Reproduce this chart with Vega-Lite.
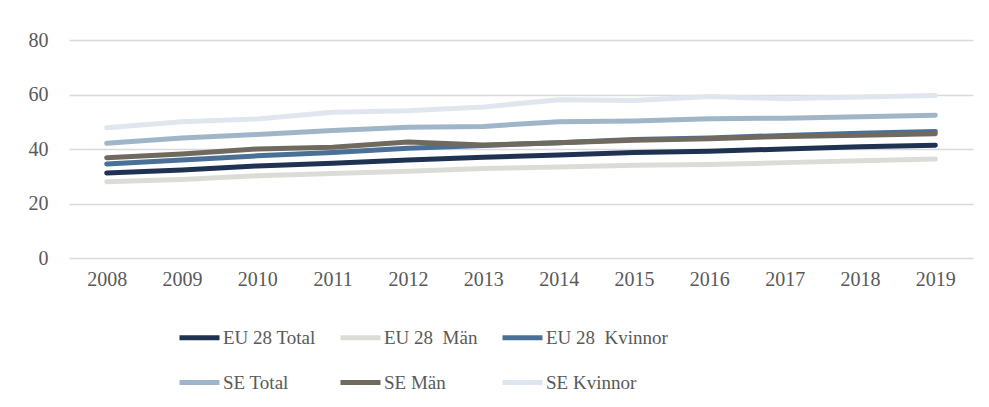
{
  "$schema": "https://vega.github.io/schema/vega-lite/v6.json",
  "autosize": {"type": "none"},
  "width": 904,
  "height": 218,
  "padding": {"left": 69, "top": 40, "right": 16, "bottom": 149},
  "background": "white",
  "config": {
    "view": {"stroke": null},
    "font": "Liberation Serif"
  },
  "data": {
    "values": [
      {"year": "2008", "series": "EU 28 Total", "value": 31.2},
      {"year": "2009", "series": "EU 28 Total", "value": 32.3},
      {"year": "2010", "series": "EU 28 Total", "value": 33.8},
      {"year": "2011", "series": "EU 28 Total", "value": 34.8},
      {"year": "2012", "series": "EU 28 Total", "value": 36.0},
      {"year": "2013", "series": "EU 28 Total", "value": 37.0},
      {"year": "2014", "series": "EU 28 Total", "value": 37.8},
      {"year": "2015", "series": "EU 28 Total", "value": 38.7},
      {"year": "2016", "series": "EU 28 Total", "value": 39.2},
      {"year": "2017", "series": "EU 28 Total", "value": 40.0},
      {"year": "2018", "series": "EU 28 Total", "value": 40.8},
      {"year": "2019", "series": "EU 28 Total", "value": 41.4},
      {"year": "2008", "series": "EU 28  Män", "value": 28.0},
      {"year": "2009", "series": "EU 28  Män", "value": 28.8},
      {"year": "2010", "series": "EU 28  Män", "value": 30.2},
      {"year": "2011", "series": "EU 28  Män", "value": 31.0},
      {"year": "2012", "series": "EU 28  Män", "value": 31.8},
      {"year": "2013", "series": "EU 28  Män", "value": 32.8},
      {"year": "2014", "series": "EU 28  Män", "value": 33.4},
      {"year": "2015", "series": "EU 28  Män", "value": 34.0},
      {"year": "2016", "series": "EU 28  Män", "value": 34.3},
      {"year": "2017", "series": "EU 28  Män", "value": 35.0},
      {"year": "2018", "series": "EU 28  Män", "value": 35.7},
      {"year": "2019", "series": "EU 28  Män", "value": 36.3},
      {"year": "2008", "series": "EU 28  Kvinnor", "value": 34.5},
      {"year": "2009", "series": "EU 28  Kvinnor", "value": 36.0},
      {"year": "2010", "series": "EU 28  Kvinnor", "value": 37.5},
      {"year": "2011", "series": "EU 28  Kvinnor", "value": 38.7},
      {"year": "2012", "series": "EU 28  Kvinnor", "value": 40.3},
      {"year": "2013", "series": "EU 28  Kvinnor", "value": 41.3},
      {"year": "2014", "series": "EU 28  Kvinnor", "value": 42.3},
      {"year": "2015", "series": "EU 28  Kvinnor", "value": 43.5},
      {"year": "2016", "series": "EU 28  Kvinnor", "value": 44.0},
      {"year": "2017", "series": "EU 28  Kvinnor", "value": 45.0},
      {"year": "2018", "series": "EU 28  Kvinnor", "value": 45.8},
      {"year": "2019", "series": "EU 28  Kvinnor", "value": 46.4},
      {"year": "2008", "series": "SE Total", "value": 42.1},
      {"year": "2009", "series": "SE Total", "value": 44.0},
      {"year": "2010", "series": "SE Total", "value": 45.3},
      {"year": "2011", "series": "SE Total", "value": 46.8},
      {"year": "2012", "series": "SE Total", "value": 48.0},
      {"year": "2013", "series": "SE Total", "value": 48.3},
      {"year": "2014", "series": "SE Total", "value": 50.0},
      {"year": "2015", "series": "SE Total", "value": 50.3},
      {"year": "2016", "series": "SE Total", "value": 51.1},
      {"year": "2017", "series": "SE Total", "value": 51.3},
      {"year": "2018", "series": "SE Total", "value": 51.8},
      {"year": "2019", "series": "SE Total", "value": 52.4},
      {"year": "2008", "series": "SE Män", "value": 36.8},
      {"year": "2009", "series": "SE Män", "value": 38.2},
      {"year": "2010", "series": "SE Män", "value": 40.0},
      {"year": "2011", "series": "SE Män", "value": 40.6},
      {"year": "2012", "series": "SE Män", "value": 42.6},
      {"year": "2013", "series": "SE Män", "value": 41.5},
      {"year": "2014", "series": "SE Män", "value": 42.3},
      {"year": "2015", "series": "SE Män", "value": 43.2},
      {"year": "2016", "series": "SE Män", "value": 43.8},
      {"year": "2017", "series": "SE Män", "value": 44.6},
      {"year": "2018", "series": "SE Män", "value": 45.0},
      {"year": "2019", "series": "SE Män", "value": 45.6},
      {"year": "2008", "series": "SE Kvinnor", "value": 47.8},
      {"year": "2009", "series": "SE Kvinnor", "value": 50.0},
      {"year": "2010", "series": "SE Kvinnor", "value": 51.0},
      {"year": "2011", "series": "SE Kvinnor", "value": 53.5},
      {"year": "2012", "series": "SE Kvinnor", "value": 54.0},
      {"year": "2013", "series": "SE Kvinnor", "value": 55.4},
      {"year": "2014", "series": "SE Kvinnor", "value": 58.1},
      {"year": "2015", "series": "SE Kvinnor", "value": 57.8},
      {"year": "2016", "series": "SE Kvinnor", "value": 59.3},
      {"year": "2017", "series": "SE Kvinnor", "value": 58.4},
      {"year": "2018", "series": "SE Kvinnor", "value": 59.1},
      {"year": "2019", "series": "SE Kvinnor", "value": 59.6}
    ]
  },
  "mark": {"type": "line", "strokeWidth": 5, "strokeCap": "round", "strokeJoin": "round"},
  "encoding": {
    "x": {
      "field": "year", "type": "ordinal", "title": null,
      "scale": {"type": "point", "padding": 0.5},
      "axis": {"labelAngle": 0, "domain": false, "ticks": false, "grid": false,
               "labelFont": "Liberation Serif", "labelFontSize": 20, "labelColor": "#595959", "labelPadding": 11}
    },
    "y": {
      "field": "value", "type": "quantitative", "title": null,
      "scale": {"domain": [0, 80]},
      "axis": {"values": [0, 20, 40, 60, 80], "domain": false, "ticks": false,
               "gridColor": "#d9d9d9", "gridWidth": 1.3,
               "labelFont": "Liberation Serif", "labelFontSize": 20, "labelColor": "#595959", "labelPadding": 21}
    },
    "color": {
      "field": "series", "type": "nominal", "sort": null,
      "scale": {
        "domain": ["EU 28 Total", "EU 28  Män", "EU 28  Kvinnor", "SE Total", "SE Män", "SE Kvinnor"],
        "range": ["#1f3252", "#dcdcd7", "#4a7098", "#a0b6c8", "#706a5e", "#e0e6ee"]
      },
      "legend": {
        "title": null, "orient": "none", "legendX": 108, "legendY": 275,
        "direction": "horizontal", "columns": 3, "columnPadding": 14, "rowPadding": 12,
        "symbolType": "stroke", "symbolSize": 1600, "symbolStrokeWidth": 5, "symbolOffset": 0,
        "labelOffset": 1, "labelFont": "Liberation Serif", "labelFontSize": 19, "labelColor": "#595959",
        "labelLimit": 300,
        "labelExpr": "replace(datum.label, '  ', ' \u00a0')"
      }
    }
  }
}
